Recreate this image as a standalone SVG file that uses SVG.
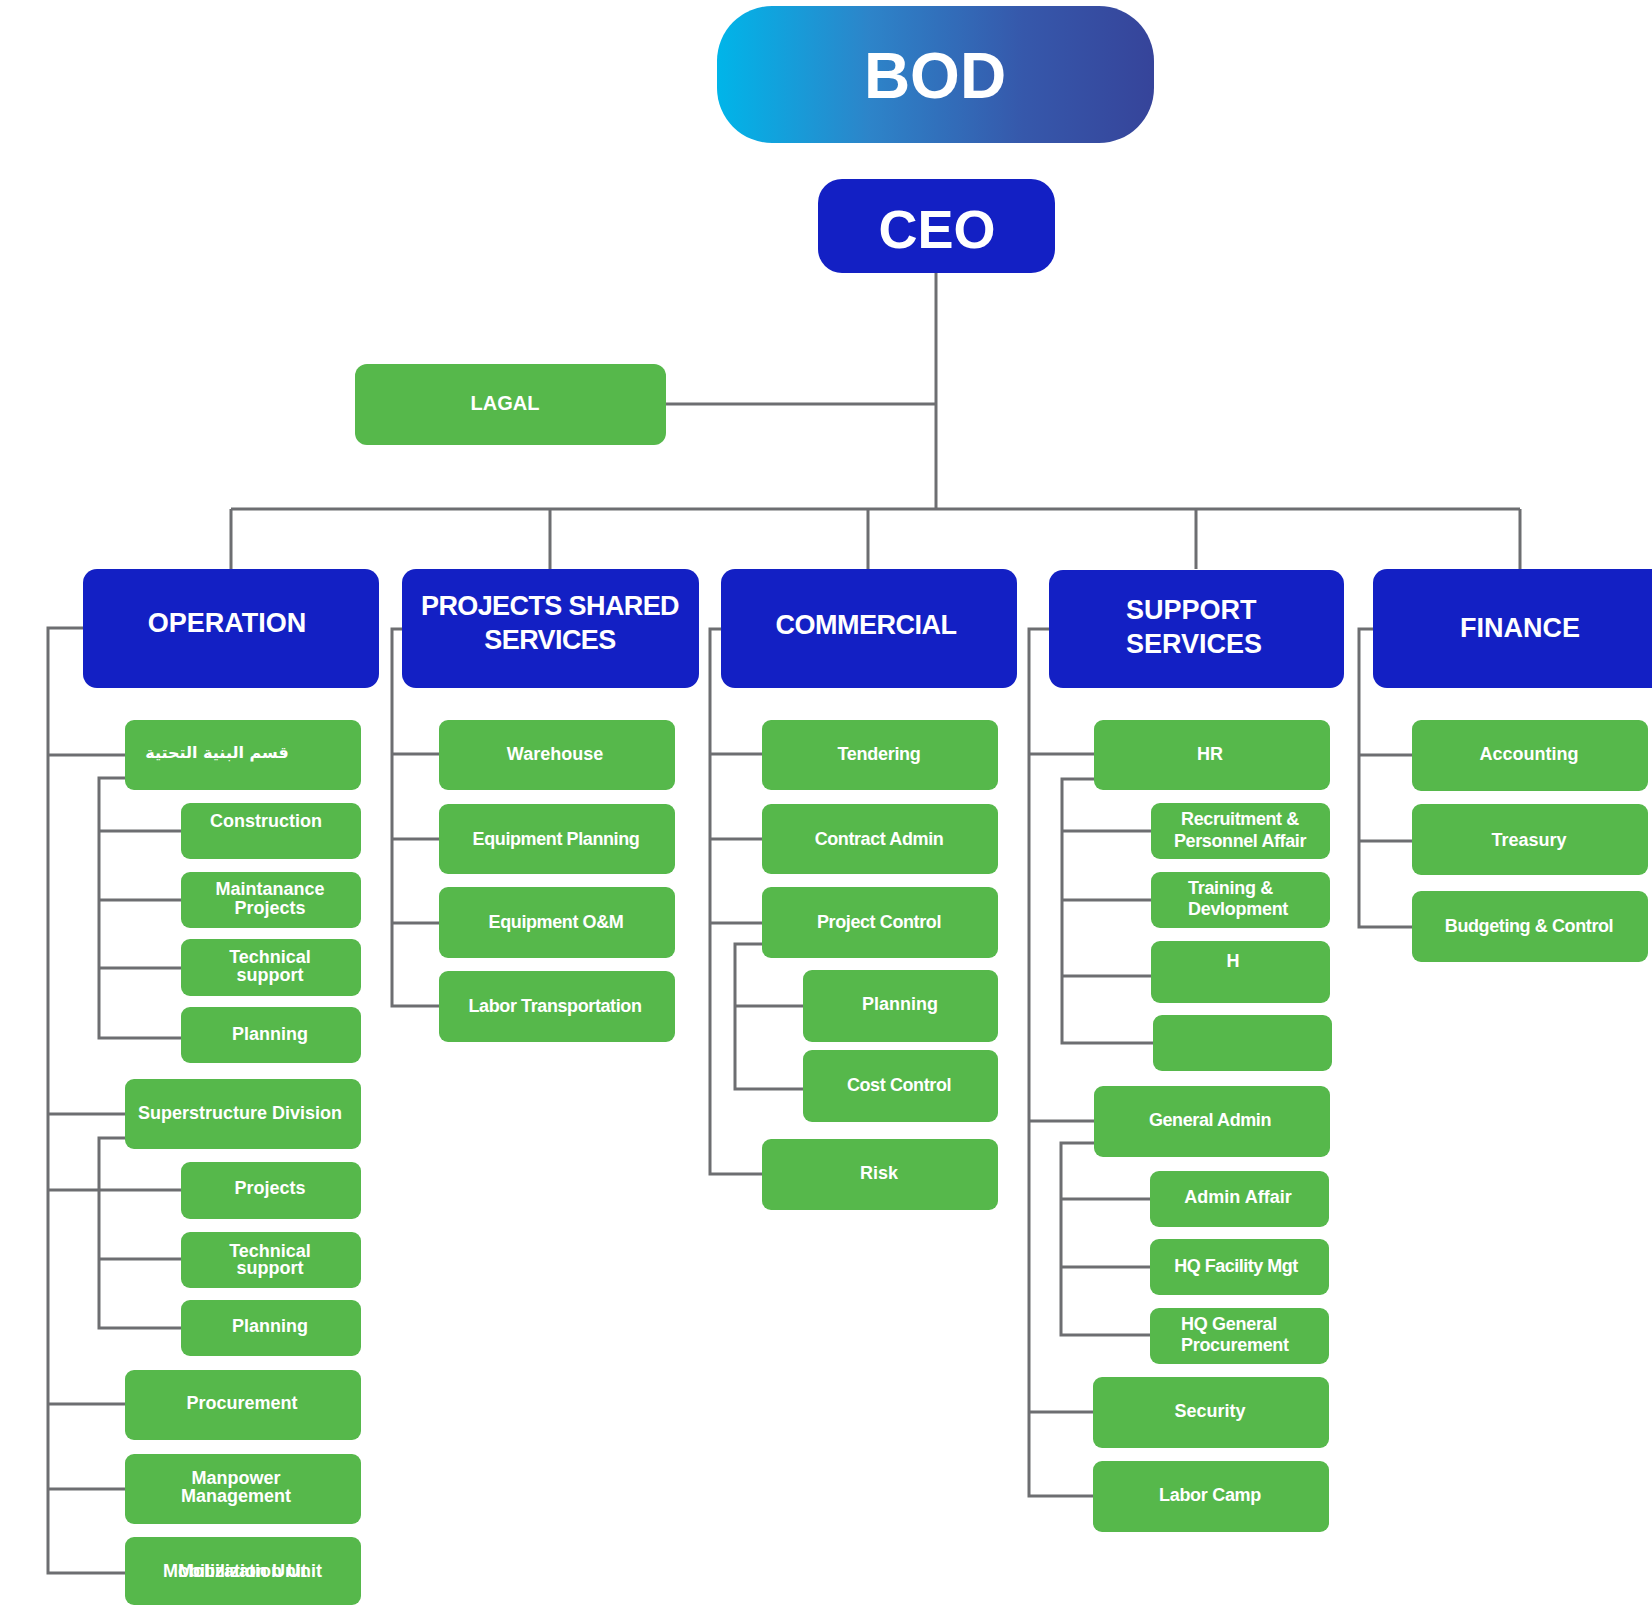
<svg xmlns="http://www.w3.org/2000/svg" width="1652" height="1607" viewBox="0 0 1652 1607">
<defs>
<linearGradient id="bodGrad" x1="0" y1="0" x2="1" y2="0">
<stop offset="0" stop-color="#00b5e9"/>
<stop offset="0.35" stop-color="#2d84c9"/>
<stop offset="0.7" stop-color="#3658ab"/>
<stop offset="1" stop-color="#36449a"/>
</linearGradient>
<style>
.hdr{fill:#1320c4}
.grn{fill:#56b84b}
.lbl{font-family:"Liberation Sans",Arial,sans-serif;font-weight:700;fill:#ffffff;text-anchor:middle}
.g{font-size:18px}
.h{font-size:27px}
.ln{fill:none;stroke:#6d6e71;stroke-width:3}
.ar{font-family:"DejaVu Sans","Noto Sans",sans-serif;font-weight:700;font-size:16px;fill:#ffffff;text-anchor:middle}
</style>
</defs>
<rect width="1652" height="1607" fill="#ffffff"/>

<g id="connectors">
<path class="ln" d="M936 273 V509"/>
<path class="ln" d="M666 404 H936"/>
<path class="ln" d="M231 509 H1520 M231 509 V569 M550 509 V569 M868 509 V569 M1196 509 V569 M1520 509 V569"/>
<path class="ln" d="M83 628 H48 V1573 H125 M48 755 H125 M48 1114 H125 M48 1190 H181 M48 1404 H125 M48 1489 H125"/>
<path class="ln" d="M125 778 H99 V1038 H181 M99 831 H181 M99 900 H181 M99 968 H181"/>
<path class="ln" d="M125 1138 H99 V1328 H181 M99 1259 H181"/>
<path class="ln" d="M402 629 H392 V1006 H439 M392 754 H439 M392 839 H439 M392 923 H439"/>
<path class="ln" d="M721 629 H710 V1174 H762 M710 754 H762 M710 839 H762 M710 923 H762"/>
<path class="ln" d="M762 944 H735 V1089 H803 M735 1006 H803"/>
<path class="ln" d="M1049 629 H1029 V1496 H1094 M1029 754 H1094 M1029 1121 H1094 M1029 1412 H1094"/>
<path class="ln" d="M1094 779 H1062 V1043 H1153 M1062 831 H1151 M1062 900 H1151 M1062 976 H1151"/>
<path class="ln" d="M1094 1143 H1061 V1335 H1150 M1061 1199 H1150 M1061 1267 H1150"/>
<path class="ln" d="M1373 629 H1359 V927 H1412 M1359 755 H1412 M1359 841 H1412"/>
</g>

<g id="bod"><rect x="717" y="6" width="437" height="137" rx="55" fill="url(#bodGrad)"/><text class="lbl" x="935" y="98" font-size="64">BOD</text></g>
<g id="ceo"><rect class="hdr" x="818" y="179" width="237" height="94" rx="24"/><text class="lbl" x="937" y="248" font-size="54">CEO</text></g>
<g id="legal"><rect class="grn" x="355" y="364" width="311" height="81" rx="12"/><text class="lbl" x="505" y="410" font-size="20">LAGAL</text></g>

<g id="operation"><rect class="hdr" x="83" y="569" width="296" height="119" rx="14"/><text class="lbl h" x="227" y="632">OPERATION</text></g>
<g id="pss"><rect class="hdr" x="402" y="569" width="297" height="119" rx="14"/><text class="lbl h" x="550" y="615" letter-spacing="-0.6">PROJECTS SHARED<tspan x="550" dy="34">SERVICES</tspan></text></g>
<g id="commercial"><rect class="hdr" x="721" y="569" width="296" height="119" rx="14"/><text class="lbl h" x="866" y="634" letter-spacing="-0.5">COMMERCIAL</text></g>
<g id="support"><rect class="hdr" x="1049" y="570" width="295" height="118" rx="14"/><text class="lbl h" x="1126" y="619" style="text-anchor:start">SUPPORT<tspan x="1126" dy="34">SERVICES</tspan></text></g>
<g id="finance"><rect class="hdr" x="1373" y="569" width="300" height="119" rx="14"/><text class="lbl h" x="1520" y="637">FINANCE</text></g>

<!-- OPERATION children -->
<g id="op-infra"><rect class="grn" x="125" y="720" width="236" height="70" rx="9"/><text class="ar" x="217" y="758">قسم البنية التحتية</text></g>
<g id="op-construction"><rect class="grn" x="181" y="803" width="180" height="56" rx="9"/><text class="lbl g" x="266" y="827">Construction</text></g>
<g id="op-maint"><rect class="grn" x="181" y="872" width="180" height="56" rx="9"/><text class="lbl g" x="270" y="895">Maintanance<tspan x="270" dy="19">Projects</tspan></text></g>
<g id="op-tech1"><rect class="grn" x="181" y="939" width="180" height="57" rx="9"/><text class="lbl g" x="270" y="963">Technical<tspan x="270" dy="18">support</tspan></text></g>
<g id="op-plan1"><rect class="grn" x="181" y="1007" width="180" height="56" rx="9"/><text class="lbl g" x="270" y="1040">Planning</text></g>
<g id="op-super"><rect class="grn" x="125" y="1079" width="236" height="70" rx="9"/><text class="lbl g" x="240" y="1119">Superstructure Division</text></g>
<g id="op-projects"><rect class="grn" x="181" y="1162" width="180" height="57" rx="9"/><text class="lbl g" x="270" y="1194">Projects</text></g>
<g id="op-tech2"><rect class="grn" x="181" y="1232" width="180" height="56" rx="9"/><text class="lbl g" x="270" y="1257">Technical<tspan x="270" dy="17">support</tspan></text></g>
<g id="op-plan2"><rect class="grn" x="181" y="1300" width="180" height="56" rx="9"/><text class="lbl g" x="270" y="1332">Planning</text></g>
<g id="op-procurement"><rect class="grn" x="125" y="1370" width="236" height="70" rx="9"/><text class="lbl g" x="242" y="1409">Procurement</text></g>
<g id="op-manpower"><rect class="grn" x="125" y="1454" width="236" height="70" rx="9"/><text class="lbl g" x="236" y="1484">Manpower<tspan x="236" dy="18">Management</tspan></text></g>
<g id="op-mobilization"><rect class="grn" x="125" y="1537" width="236" height="68" rx="9"/><text class="lbl g" x="163" y="1577" style="text-anchor:start">Mobilization Unit</text><text class="lbl g" x="178" y="1577" style="text-anchor:start">Mobilization Unit</text></g>

<!-- PSS children -->
<g id="pss-warehouse"><rect class="grn" x="439" y="720" width="236" height="70" rx="9"/><text class="lbl g" x="555" y="760">Warehouse</text></g>
<g id="pss-eqplan"><rect class="grn" x="439" y="804" width="236" height="70" rx="9"/><text class="lbl g" x="556" y="845" letter-spacing="-0.4">Equipment Planning</text></g>
<g id="pss-eqom"><rect class="grn" x="439" y="887" width="236" height="71" rx="9"/><text class="lbl g" x="556" y="928" letter-spacing="-0.4">Equipment O&amp;M</text></g>
<g id="pss-labor"><rect class="grn" x="439" y="971" width="236" height="71" rx="9"/><text class="lbl g" x="555" y="1012" letter-spacing="-0.4">Labor Transportation</text></g>

<!-- COMMERCIAL children -->
<g id="com-tendering"><rect class="grn" x="762" y="720" width="236" height="70" rx="9"/><text class="lbl g" x="879" y="760" letter-spacing="-0.3">Tendering</text></g>
<g id="com-contract"><rect class="grn" x="762" y="804" width="236" height="70" rx="9"/><text class="lbl g" x="879" y="845" letter-spacing="-0.4">Contract Admin</text></g>
<g id="com-projectcontrol"><rect class="grn" x="762" y="887" width="236" height="71" rx="9"/><text class="lbl g" x="879" y="928" letter-spacing="-0.4">Project Control</text></g>
<g id="com-planning"><rect class="grn" x="803" y="970" width="195" height="72" rx="9"/><text class="lbl g" x="900" y="1010">Planning</text></g>
<g id="com-cost"><rect class="grn" x="803" y="1050" width="195" height="72" rx="9"/><text class="lbl g" x="899" y="1091" letter-spacing="-0.4">Cost Control</text></g>
<g id="com-risk"><rect class="grn" x="762" y="1139" width="236" height="71" rx="9"/><text class="lbl g" x="879" y="1179">Risk</text></g>

<!-- SUPPORT children -->
<g id="sup-hr"><rect class="grn" x="1094" y="720" width="236" height="70" rx="9"/><text class="lbl g" x="1210" y="760">HR</text></g>
<g id="sup-recruit"><rect class="grn" x="1151" y="803" width="179" height="56" rx="9"/><text class="lbl g" x="1240" y="825" letter-spacing="-0.4">Recruitment &amp;<tspan x="1240" dy="22">Personnel Affair</tspan></text></g>
<g id="sup-training"><rect class="grn" x="1151" y="872" width="179" height="56" rx="9"/><text class="lbl g" x="1188" y="894" style="text-anchor:start" letter-spacing="-0.3">Training &amp;<tspan x="1188" dy="21">Devlopment</tspan></text></g>
<g id="sup-h"><rect class="grn" x="1151" y="941" width="179" height="62" rx="9"/><text class="lbl g" x="1233" y="967">H</text></g>
<g id="sup-empty"><rect class="grn" x="1153" y="1015" width="179" height="56" rx="9"/></g>
<g id="sup-genadmin"><rect class="grn" x="1094" y="1086" width="236" height="71" rx="9"/><text class="lbl g" x="1210" y="1126" letter-spacing="-0.4">General Admin</text></g>
<g id="sup-adminaffair"><rect class="grn" x="1150" y="1171" width="179" height="56" rx="9"/><text class="lbl g" x="1238" y="1203">Admin Affair</text></g>
<g id="sup-hqfacility"><rect class="grn" x="1150" y="1239" width="179" height="56" rx="9"/><text class="lbl g" x="1236" y="1272" letter-spacing="-0.5">HQ Facility Mgt</text></g>
<g id="sup-hqproc"><rect class="grn" x="1150" y="1308" width="179" height="56" rx="9"/><text class="lbl g" x="1181" y="1330" style="text-anchor:start" letter-spacing="-0.3">HQ General<tspan x="1181" dy="21">Procurement</tspan></text></g>
<g id="sup-security"><rect class="grn" x="1093" y="1377" width="236" height="71" rx="9"/><text class="lbl g" x="1210" y="1417">Security</text></g>
<g id="sup-laborcamp"><rect class="grn" x="1093" y="1461" width="236" height="71" rx="9"/><text class="lbl g" x="1210" y="1501" letter-spacing="-0.3">Labor Camp</text></g>

<!-- FINANCE children -->
<g id="fin-accounting"><rect class="grn" x="1412" y="720" width="236" height="71" rx="9"/><text class="lbl g" x="1529" y="760">Accounting</text></g>
<g id="fin-treasury"><rect class="grn" x="1412" y="804" width="236" height="71" rx="9"/><text class="lbl g" x="1529" y="846">Treasury</text></g>
<g id="fin-budget"><rect class="grn" x="1412" y="891" width="236" height="71" rx="9"/><text class="lbl g" x="1529" y="932" letter-spacing="-0.4">Budgeting &amp; Control</text></g>
</svg>
